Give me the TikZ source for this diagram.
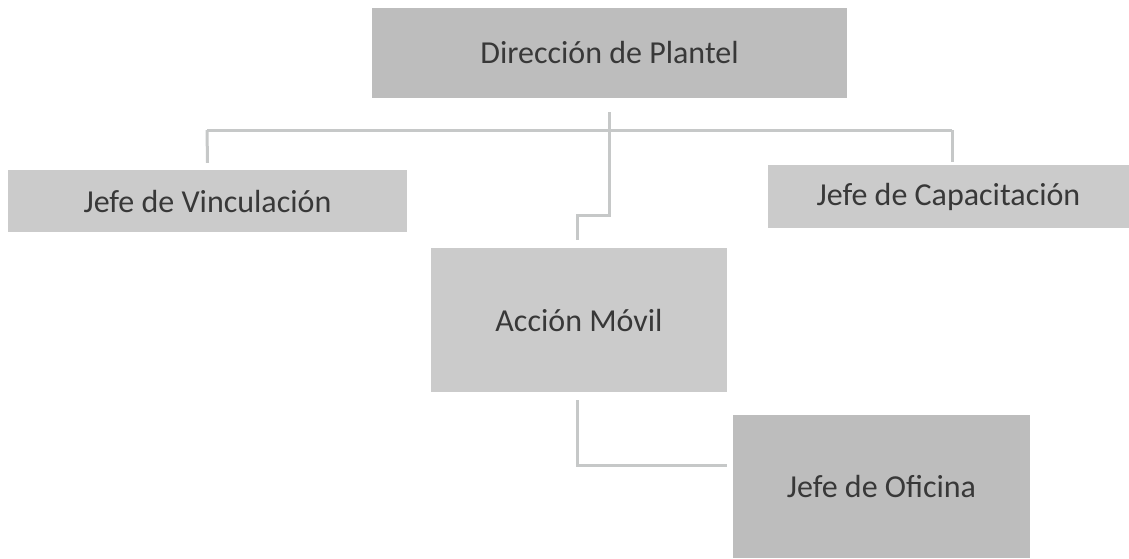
\documentclass[tikz,border=0pt]{standalone}
\usepackage{fontspec}
\setmainfont{Carlito}
\definecolor{boxlight}{HTML}{CBCBCB}
\definecolor{boxdark}{HTML}{BDBDBD}
\definecolor{txtgray}{HTML}{383838}
\definecolor{linegray}{HTML}{C6C8C8}
\begin{document}
\begin{tikzpicture}[x=1pt,y=-1pt,
  box/.style={fill=boxlight, inner sep=0pt, text=txtgray, font=\fontsize{32}{38}\selectfont},
  darkbox/.style={box, fill=boxdark},
  conn/.style={draw=linegray, line width=3pt}]
\useasboundingbox (0,0) rectangle (1129,558);
\node[darkbox, minimum width=475pt, minimum height=90pt] (dir) at (609.5,53) {Dirección de Plantel};
\node[box, minimum width=399pt, minimum height=62pt] (vinc) at (207.5,201) {Jefe de Vinculación};
\node[box, minimum width=361pt, minimum height=63pt] (cap) at (948.5,196.5) {Jefe de Capacitación};
\node[box, minimum width=296pt, minimum height=144pt] (am) at (579,320) {Acción Móvil};
\node[darkbox, minimum width=297pt, minimum height=143pt] (ofi) at (881.5,486.5) {Jefe de Oficina};
\coordinate (busL) at (207,130);
\coordinate (busR) at (952,130);
\coordinate (elbow) at (609.5,215);
\draw[conn] (busL) -- (busR);
\draw[conn] ([yshift=7pt]vinc.north) -- (busL);
\draw[conn] ([xshift=3.5pt,yshift=3pt]cap.north) -- (busR);
\draw[conn] ([yshift=-14pt]dir.south) -- (elbow) -| ([xshift=-2pt,yshift=8pt]am.north);
\draw[conn] ([xshift=-2pt,yshift=-8pt]am.south) |- ([xshift=-6pt,yshift=21.5pt]ofi.west);
\end{tikzpicture}
\end{document}
